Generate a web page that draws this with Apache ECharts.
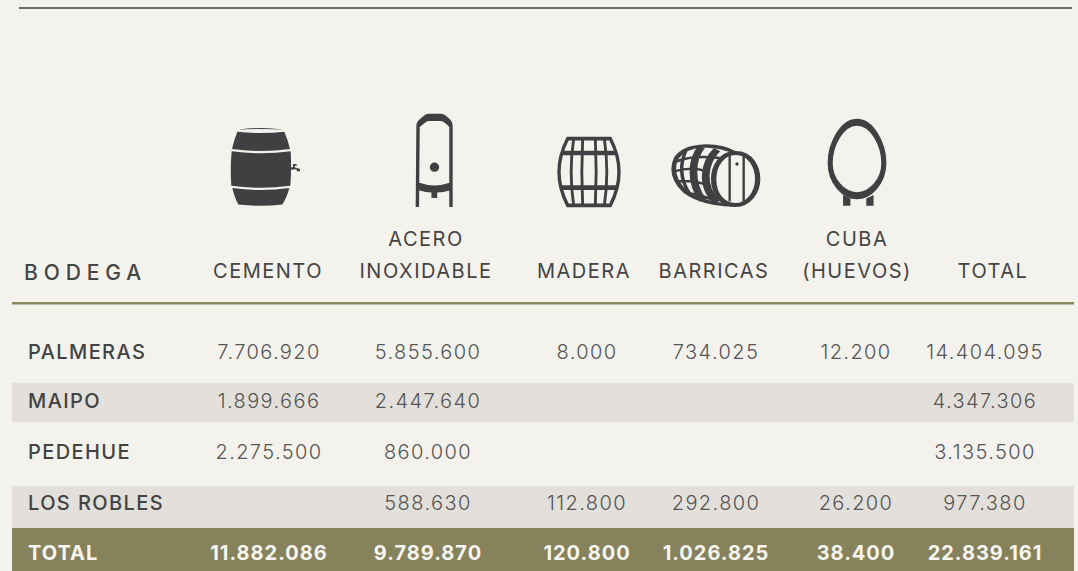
<!DOCTYPE html>
<html lang="es">
<head>
<meta charset="utf-8">
<title>Bodegas</title>
<style>
  html, body { margin: 0; padding: 0; background: #f4f2ec; }
  #chart { width: 1078px; height: 571px; }
  /* svg renderer, so letter spacing can come from css */
  #chart text { letter-spacing: 1.4px; }
  #chart text[fill="#454545"] { letter-spacing: 5.9px; }
  #chart text[fill="#444444"] { letter-spacing: 1.5px; }
  #chart text[fill="#f7f5ef"] { letter-spacing: 1px; }
  #chart text[fill="#555555"] { letter-spacing: 1.4px; }
</style>
<script src="https://cdn.jsdelivr.net/npm/echarts@6/dist/echarts.min.js"></script>
</head>
<body>
<div id="chart"></div>
<script>
// table content
const columns = ['BODEGA', 'CEMENTO', 'ACERO\nINOXIDABLE', 'MADERA', 'BARRICAS', 'CUBA\n(HUEVOS)', 'TOTAL'];
const bodegas = ['PALMERAS', 'MAIPO', 'PEDEHUE', 'LOS ROBLES'];
const palmeras = [7706920, 5855600, 8000, 734025, 12200, 14404095];
const maipo = [1899666, 2447640, null, null, null, 4347306];
const pedehue = [2275500, 860000, null, null, null, 3135500];
const losRobles = [null, 588630, 112800, 292800, 26200, 977380];
const totals = [11882086, 9789870, 120800, 1026825, 38400, 22839161];

const bodegaValues = [palmeras, maipo, pedehue, losRobles];
const valueColumns = columns.slice(1);
const rows = ['top', 'icons', 'head', 'gap', ...bodegas, 'TOTAL '];
const totalRow = 'TOTAL ';

// matrix layout, px
const colSizes = [228, 58, 260, 58, 200, 80, 178];
const rowSizes = [120, 90, 93, 18, 62, 39, 64, 42, 43];
const rowTextShift = { PALMERAS: 0, MAIPO: -1.5, PEDEHUE: -2, 'LOS ROBLES': -4, 'TOTAL ': 3.5 };
const headShift = [-1, -2, -3, -2, 1, 8];

const fmt = v => String(v).replace(/\B(?=(\d{3})+$)/g, '.');

const INK = '#404042';
const FONT = 'Inter, "Open Sans", sans-serif';

// text only points: symbol invisible, label carries the value
function textSeries(data, label) {
  return {
    type: 'scatter',
    coordinateSystem: 'matrix',
    symbolSize: 1,
    silent: true,
    z: 5,
    itemStyle: { color: 'transparent', opacity: 1 },
    label: Object.assign({
      show: true,
      position: 'inside',
      fontFamily: FONT,
      fontSize: 19,
      formatter: p => p.value[2],
    }, label),
    data,
  };
}

// icons, one scatter point per layer. Path coords are traced from the picture,
// leading M M pair pins the bounding box so layers of one icon stay registered
const icons = [
  { col: 'CEMENTO', size: [70, 79], offset: [-4, 2], fill: [
    'M90 84M300 320M115 91Q182 80 250 91Q182 86 115 91Z' +
    'M112 97Q182 104 253 97Q264 122 270 148Q182 160 96 148Q102 122 112 97Z' +
    'M95 155Q182 167 272 155Q275 205 271 258Q182 270 94 258Q90 205 95 155Z' +
    'M97 265Q182 277 268 265Q260 295 247 314Q182 322 115 314Q104 295 97 265Z' +
    'M273 203L279 203L279 193L290 193L290 198L284 198L284 203L300 208L300 215L290 215L290 209L273 210Z'
  ] },
  { col: 'ACERO\nINOXIDABLE', size: [42, 92], offset: [6, -4], fill: [
    'M640 45M765 320M695 268L712 268L712 293L695 293Z' +
    'M690 201A14 14 0 1 1 718 201A14 14 0 1 1 690 201Z'
  ], stroke: [
    ['M640 45M765 320M653 320L655 78Q655 72 665 65L678 55Q682 52 688 52L722 52Q728 52 732 55L745 65Q753 72 753 78L753 320M655 258Q704 275 753 258', 5]
  ] },
  { col: 'MADERA', size: [64, 70], offset: [2, 7], stroke: [
    ['M80 110M272 320M112 115L240 115Q292 215 240 315L112 315Q60 215 112 115Z', 3.5],
    ['M80 110M272 320M93 158L259 158M93 262L259 262', 4.5],
    ['M80 110M272 320M130 115Q115 215 130 315M157 115Q152 215 157 315M195 115Q200 215 195 315M222 115Q237 215 222 315', 3],
  ] },
  { col: 'BARRICAS', size: [90, 64], offset: [0, 10], fill: [
    'M424 130M694 322M617 193A5 5 0 1 1 627 193A5 5 0 1 1 617 193Z'
  ], stroke: [
    ['M424 130M694 322M618 160C665 160 684 205 684 238C684 280 655 316 618 316C575 316 552 280 552 238C552 200 575 160 618 160Z', 4.5],
    ['M424 130M694 322M600 168L600 305M642 170L642 305', 2],
    ['M424 130M694 322M618 160C560 130 470 130 440 175C420 215 440 270 500 295C540 312 580 316 618 316', 4],
    ['M424 130M694 322M562 150C522 190 512 260 562 308M515 142C485 180 480 250 520 302', 6.5],
    ['M424 130M694 322M470 150C450 190 450 240 480 282M440 185Q490 165 570 175M432 215Q490 200 530 215M438 245Q490 240 530 255M465 278Q510 285 550 300', 3],
  ] },
  { col: 'CUBA\n(HUEVOS)', size: [63, 87], offset: [1, -2], fill: [
    'M885 60M1075 320M938 318L938 286L960 296L960 318ZM1008 318L1008 296L1030 286L1030 318Z'
  ], stroke: [
    ['M885 60M1075 320M980 68C1026 68 1061 135 1061 190C1061 245 1020 288 980 288C940 288 899 245 899 190C899 135 934 68 980 68Z', 6]
  ] },
];

function iconSeries(icon) {
  const base = {
    type: 'scatter',
    coordinateSystem: 'matrix',
    silent: true,
    z: 4,
    symbolSize: icon.size,
    symbolOffset: icon.offset,
    data: [[icon.col, 'icons']],
  };
  const layers = (icon.fill || []).map(d => Object.assign({}, base, {
    symbol: 'path://' + d,
    itemStyle: { color: INK, opacity: 1 },
  }));
  (icon.stroke || []).forEach(([d, w]) => layers.push(Object.assign({}, base, {
    symbol: 'path://' + d,
    itemStyle: { color: 'none', borderColor: INK, borderWidth: w, borderJoin: 'miter', opacity: 1 },
  })));
  return layers;
}

// row bands
const bandCells = [];
columns.forEach(c => {
  bandCells.push({ value: [c, 'MAIPO', 1], itemStyle: { color: '#e3dfda' } });
  bandCells.push({ value: [c, 'LOS ROBLES', 1], itemStyle: { color: '#e3dfda' } });
  bandCells.push({ value: [c, totalRow, 1], itemStyle: { color: '#86825b' } });
});

const headData = valueColumns.map((c, i) => ({
  value: [c, 'head', c],
  label: { offset: [headShift[i], 30.5] },
}));
const bodegaNameData = bodegas.map(b => ({
  value: ['BODEGA', b, b],
  label: { offset: [-98, rowTextShift[b]] },
}));
const valueData = [];
bodegaValues.forEach((vals, r) => {
  vals.forEach((v, c) => {
    if (v === null) return;
    valueData.push({
      value: [valueColumns[c], bodegas[r], fmt(v)],
      label: { offset: [0, rowTextShift[bodegas[r]]] },
    });
  });
});
const totalData = totals.map((v, c) => [valueColumns[c], totalRow, fmt(v)]);

const chart = echarts.init(document.getElementById('chart'), null, { renderer: 'svg' });
chart.setOption({
  animation: false,
  backgroundColor: '#f4f2ec',
  matrix: {
    left: 12,
    top: 0,
    width: 1062,
    height: 571,
    backgroundStyle: { color: 'transparent', borderWidth: 0 },
    borderZ2: 0,
    x: {
      show: false,
      data: columns.map((value, i) => ({ value, size: colSizes[i] })),
      dividerLineStyle: { width: 0 },
    },
    y: {
      show: false,
      data: rows.map((value, i) => ({ value, size: rowSizes[i] })),
      dividerLineStyle: { width: 0 },
    },
    body: { itemStyle: { color: 'transparent', borderWidth: 0 } },
    corner: { itemStyle: { color: 'transparent', borderWidth: 0 } },
  },
  graphic: [
    { type: 'rect', shape: { x: 19, y: 7, width: 1053, height: 2 }, style: { fill: '#6e6e69' }, silent: true },
    { type: 'rect', shape: { x: 12, y: 302, width: 1062, height: 2.4 }, style: { fill: '#8a8660' }, silent: true },
  ],
  series: [
    { type: 'heatmap', coordinateSystem: 'matrix', silent: true, z: 1, data: bandCells },
    textSeries(headData, {
      color: '#444444', fontWeight: 400, fontSize: 20, lineHeight: 32, verticalAlign: 'bottom',
    }),
    textSeries([['BODEGA', 'head', 'BODEGA']], {
      color: '#454545', fontWeight: 500, fontSize: 21, align: 'left', offset: [-102, 15.5],
    }),
    textSeries(bodegaNameData, { color: '#434343', fontWeight: 500, fontSize: 20, align: 'left' }),
    textSeries(valueData, { color: '#555555', fontWeight: 300, fontSize: 20 }),
    textSeries(totalData, { color: '#f7f5ef', fontWeight: 700, fontSize: 20, offset: [0, rowTextShift[totalRow]] }),
    textSeries([['BODEGA', totalRow, 'TOTAL']], {
      color: '#f7f5ef', fontWeight: 700, fontSize: 20, align: 'left', offset: [-98, rowTextShift[totalRow]],
    }),
    ...icons.flatMap(iconSeries),
  ],
});

window.addEventListener('resize', () => chart.resize());
</script>
</body>
</html>
